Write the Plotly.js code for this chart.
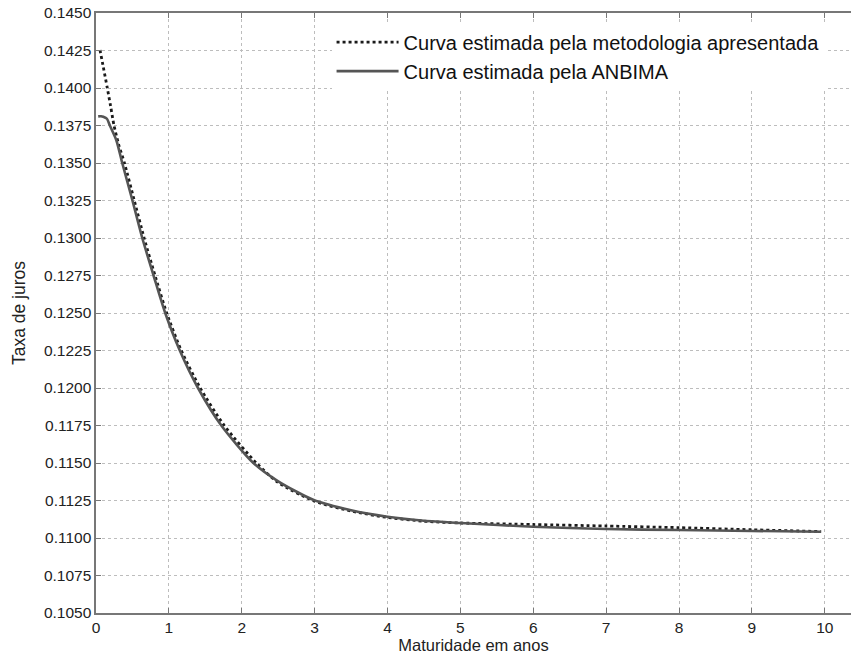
<!DOCTYPE html>
<html>
<head>
<meta charset="utf-8">
<script src="https://cdn.plot.ly/plotly-3.0.1.min.js"></script>
<style>
html,body{margin:0;padding:0;background:#fff;}
#chart{width:851px;height:656px;}
</style>
</head>
<body>
<div id="chart"></div>
<script>
// Curve estimated by the presented methodology (dotted)
const metodologiaX = [0.055, 0.10, 0.155, 0.20, 0.247, 0.31, 0.39, 0.525, 0.66, 0.81, 0.97, 1.17, 1.43, 1.76, 2.20, 2.50, 3.00, 3.50, 4.00, 4.50, 5.00, 6.00, 7.00, 8.00, 9.00, 9.95];
const metodologiaY = [0.14253, 0.14140, 0.14000, 0.13880, 0.13750, 0.13625, 0.13500, 0.13250, 0.13000, 0.12750, 0.12500, 0.12250, 0.12000, 0.11750, 0.11500, 0.11370, 0.11245, 0.11180, 0.11137, 0.11112, 0.11100, 0.11090, 0.11080, 0.11069, 0.11055, 0.11043];

// Curve estimated by ANBIMA (solid)
const anbimaX = [0.03, 0.07, 0.10, 0.15, 0.19, 0.28, 0.36, 0.50, 0.635, 0.79, 0.95, 1.15, 1.40, 1.72, 2.16, 2.50, 2.98, 3.50, 4.00, 4.50, 5.00, 6.00, 7.00, 8.00, 9.00, 9.95];
const anbimaY = [0.13811, 0.13812, 0.13808, 0.13795, 0.13750, 0.13650, 0.13500, 0.13250, 0.13000, 0.12750, 0.12500, 0.12250, 0.12000, 0.11750, 0.11500, 0.11378, 0.11255, 0.11185, 0.11142, 0.11115, 0.11100, 0.11075, 0.11060, 0.11053, 0.11047, 0.11042];

const seriesNames = ["Curva estimada pela metodologia apresentada", "Curva estimada pela ANBIMA"];
const xTitle = "Maturidade em anos";
const yTitle = "Taxa de juros";

const FONT = 'Liberation Sans, Arial, Helvetica, sans-serif';

const traces = [
  {
    x: metodologiaX, y: metodologiaY, name: seriesNames[0], type: 'scatter', mode: 'lines',
    line: {color: '#1a1a1a', width: 2.8, dash: 'dot', shape: 'spline', smoothing: 0.7}
  },
  {
    x: anbimaX, y: anbimaY, name: seriesNames[1], type: 'scatter', mode: 'lines',
    line: {color: '#555555', width: 2.6, shape: 'spline', smoothing: 0.7}
  }
];

const axisCommon = {
  showline: true, linecolor: '#777', linewidth: 1.6,
  ticks: 'inside', ticklen: 5, tickcolor: '#777', tickwidth: 1,
  showgrid: true, gridcolor: '#bdbdbd', gridwidth: 1, griddash: 'dot',
  zeroline: false,
  tickfont: {family: FONT, size: 15.5, color: '#222'}
};

const layout = {
  width: 851, height: 656,
  margin: {l: 96, r: 0, t: 13, b: 43},
  paper_bgcolor: '#fff', plot_bgcolor: '#fff',
  showlegend: true,
  legend: {
    x: 0.312, y: 0.984, xanchor: 'left', yanchor: 'top',
    bgcolor: '#fff', borderwidth: 0,
    font: {family: FONT, size: 20, color: '#111'},
    itemwidth: 62, tracegroupgap: 0
  },
  xaxis: Object.assign({}, axisCommon, {
    range: [0, 10.36], tickmode: 'linear', tick0: 0, dtick: 1,
    mirror: 'ticks',
    title: {text: xTitle, standoff: 4, font: {family: FONT, size: 16.5, color: '#222'}}
  }),
  yaxis: Object.assign({}, axisCommon, {
    range: [0.105, 0.145], tickmode: 'linear', tick0: 0.105, dtick: 0.0025,
    tickformat: '.4f',
    title: {text: yTitle, standoff: 14, font: {family: FONT, size: 17.5, color: '#222'}}
  })
};

Plotly.newPlot('chart', traces, layout, {displayModeBar: false, staticPlot: true});
</script>
</body>
</html>
